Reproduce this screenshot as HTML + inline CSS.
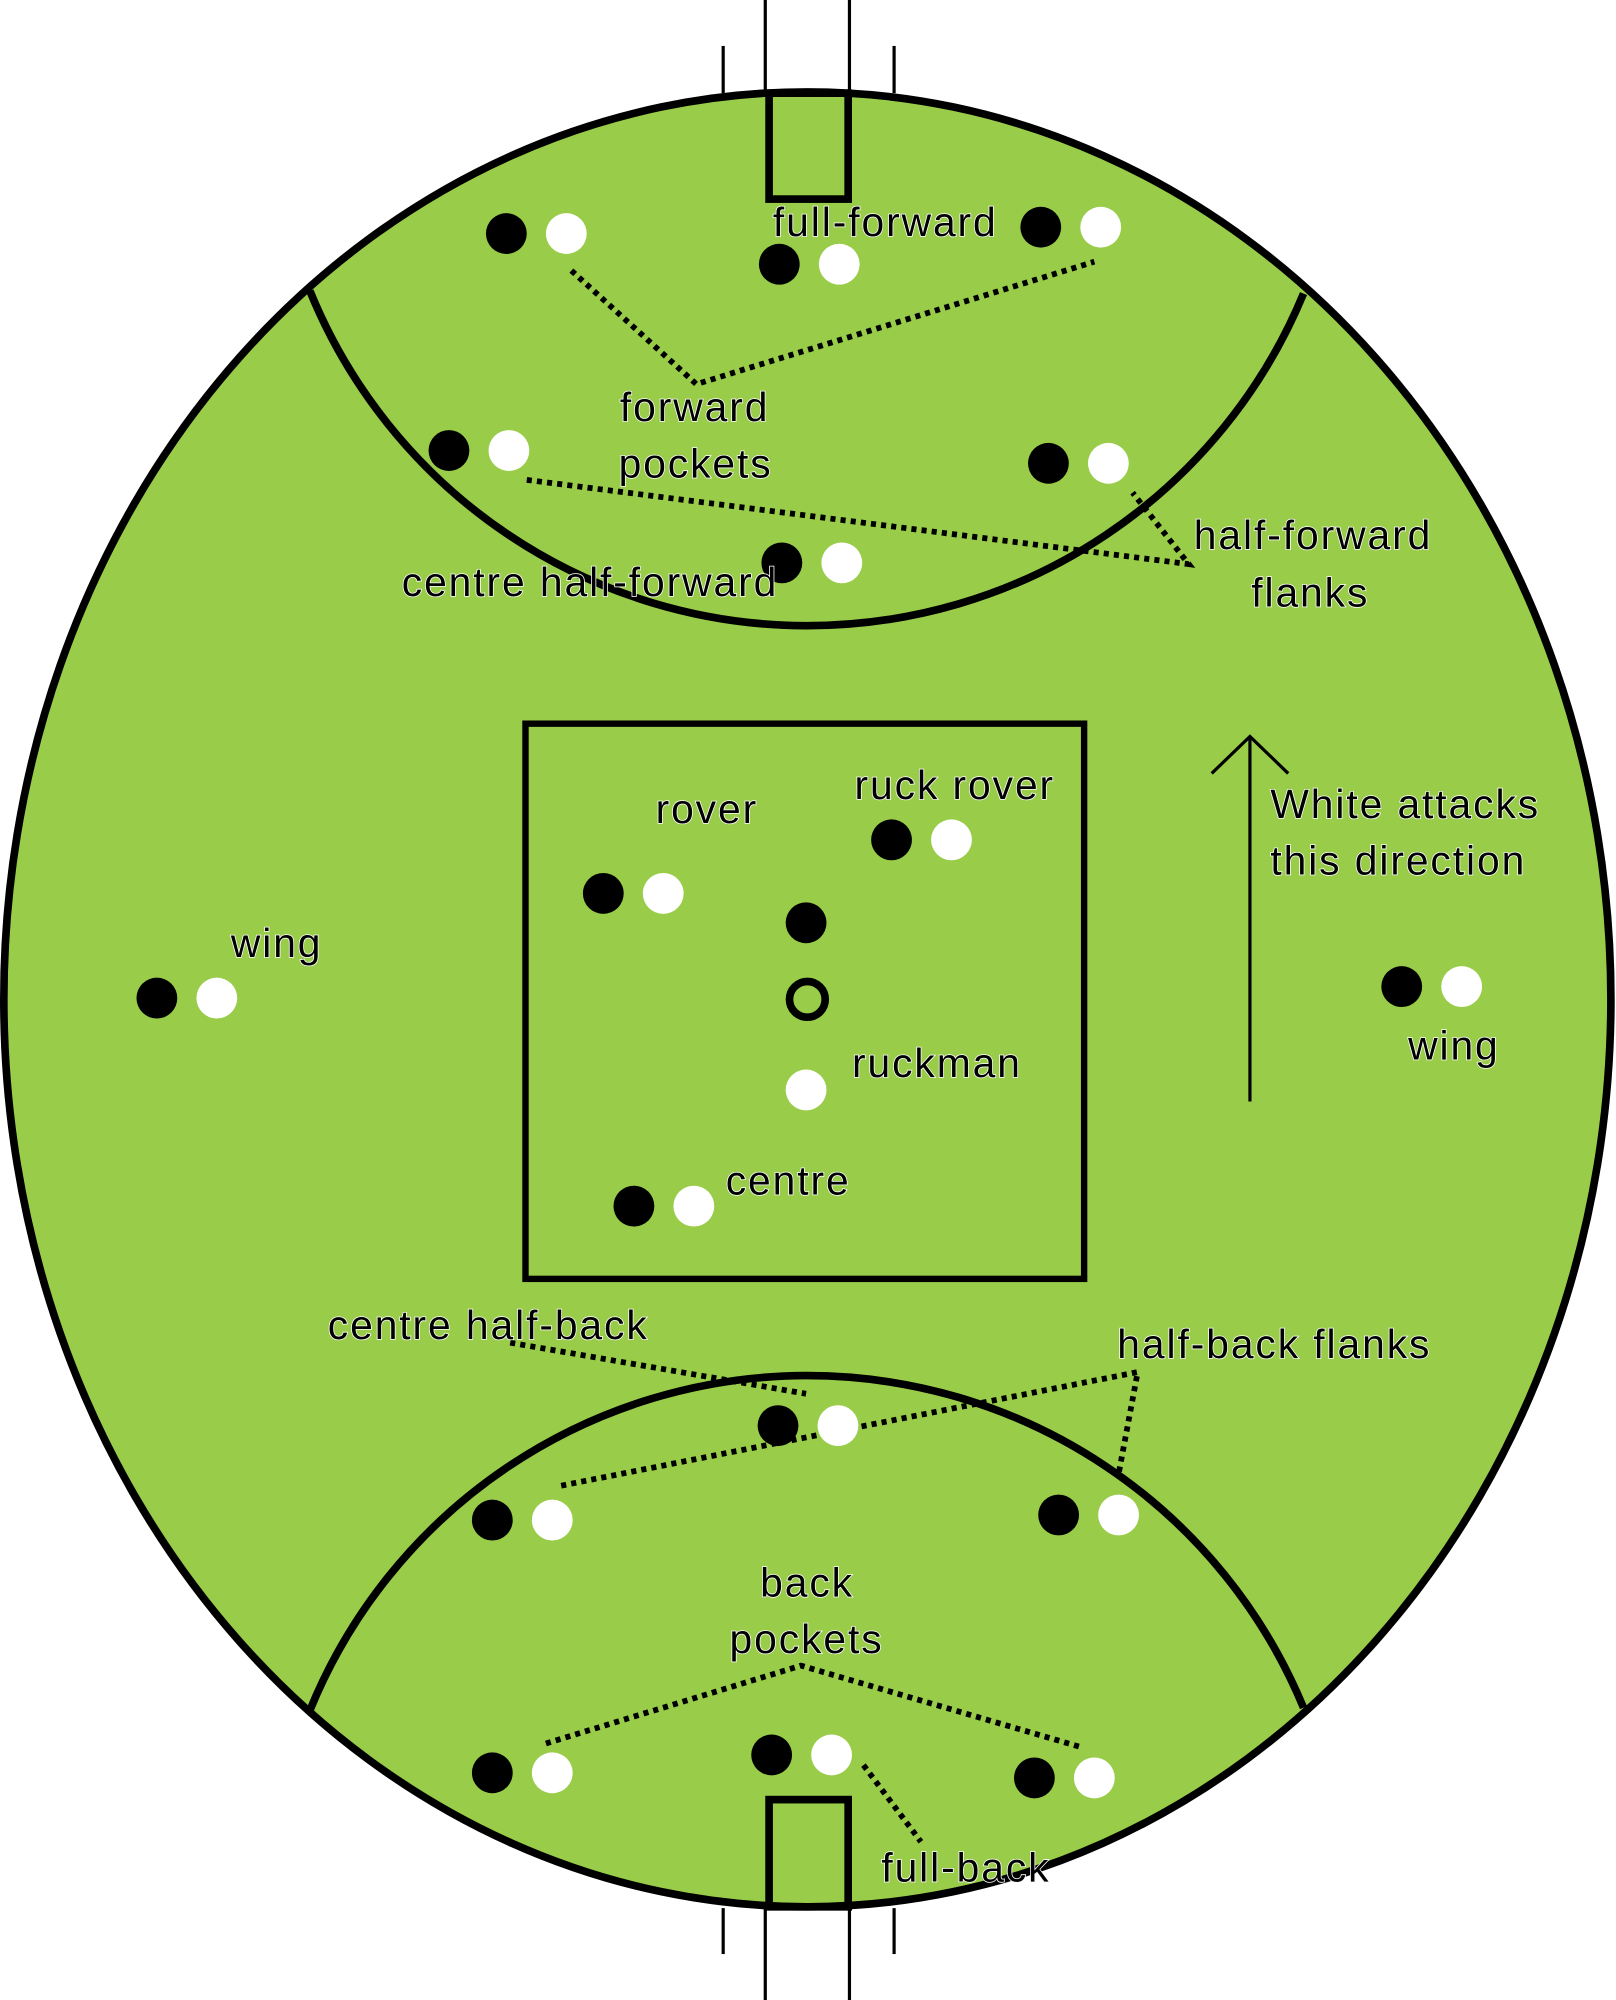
<!DOCTYPE html>
<html><head><meta charset="utf-8"><style>
html,body{margin:0;padding:0;background:#fff;}
svg{display:block;}
text{font-family:"Liberation Sans",sans-serif;font-size:32px;letter-spacing:1.5px;fill:#000;stroke:#fff;stroke-width:1.2px;paint-order:stroke;}
</style></head><body>
<svg width="1616" height="2000" viewBox="0 0 1267 1567" preserveAspectRatio="none">
<ellipse cx="633" cy="783" rx="630" ry="711" fill="#99cc49" stroke="#000" stroke-width="6"/>
<path d="M243,228 A421,421 0 0 0 1022,230" fill="none" stroke="#000" stroke-width="6"/>
<path d="M243,1340 A421,421 0 0 1 1022,1338" fill="none" stroke="#000" stroke-width="6"/>
<rect x="603" y="73" width="62" height="83" fill="none" stroke="#000" stroke-width="6"/>
<rect x="603" y="1410" width="62" height="84" fill="none" stroke="#000" stroke-width="6"/>
<g stroke="#000" stroke-width="2.5">
<line x1="600" y1="0" x2="600" y2="73"/><line x1="666" y1="0" x2="666" y2="73"/>
<line x1="567" y1="36" x2="567" y2="73"/><line x1="701" y1="36" x2="701" y2="73"/>
<line x1="600" y1="1495" x2="600" y2="1567"/><line x1="666" y1="1495" x2="666" y2="1567"/>
<line x1="567" y1="1495" x2="567" y2="1531"/><line x1="701" y1="1495" x2="701" y2="1531"/>
<line x1="980" y1="577" x2="980" y2="863"/>
<polyline points="950,606 980,577 1010,606" fill="none"/>
</g>
<rect x="412" y="567" width="438" height="435" fill="none" stroke="#000" stroke-width="5"/>
<g fill="none" stroke="#000" stroke-width="4.5" stroke-dasharray="4 4">
<polyline points="448,212 546,301 858,205"/>
<polyline points="413,376 932,442 888,386"/>
<polyline points="400,1052 632,1092"/>
<polyline points="440,1164 892,1075 877,1155"/>
<polyline points="428,1366 628,1305 848,1369"/>
<polyline points="677,1383 722,1443"/>
</g>
<circle cx="633" cy="783" r="14" fill="none" stroke="#000" stroke-width="6"/>
<g>
<circle cx="397" cy="183" r="16"/><circle cx="444" cy="183" r="16" fill="#fff"/>
<circle cx="611" cy="207" r="16"/><circle cx="658" cy="207" r="16" fill="#fff"/>
<circle cx="816" cy="178" r="16"/><circle cx="863" cy="178" r="16" fill="#fff"/>
<circle cx="352" cy="353" r="16"/><circle cx="399" cy="353" r="16" fill="#fff"/>
<circle cx="822" cy="363" r="16"/><circle cx="869" cy="363" r="16" fill="#fff"/>
<circle cx="613" cy="441" r="16"/><circle cx="660" cy="441" r="16" fill="#fff"/>
<circle cx="699" cy="658" r="16"/><circle cx="746" cy="658" r="16" fill="#fff"/>
<circle cx="473" cy="700" r="16"/><circle cx="520" cy="700" r="16" fill="#fff"/>
<circle cx="632" cy="723" r="16"/>
<circle cx="632" cy="854" r="16" fill="#fff"/>
<circle cx="123" cy="782" r="16"/><circle cx="170" cy="782" r="16" fill="#fff"/>
<circle cx="1099" cy="773" r="16"/><circle cx="1146" cy="773" r="16" fill="#fff"/>
<circle cx="497" cy="945" r="16"/><circle cx="544" cy="945" r="16" fill="#fff"/>
<circle cx="610" cy="1117" r="16"/><circle cx="657" cy="1117" r="16" fill="#fff"/>
<circle cx="386" cy="1191" r="16"/><circle cx="433" cy="1191" r="16" fill="#fff"/>
<circle cx="830" cy="1187" r="16"/><circle cx="877" cy="1187" r="16" fill="#fff"/>
<circle cx="386" cy="1389" r="16"/><circle cx="433" cy="1389" r="16" fill="#fff"/>
<circle cx="605" cy="1375" r="16"/><circle cx="652" cy="1375" r="16" fill="#fff"/>
<circle cx="811" cy="1393" r="16"/><circle cx="858" cy="1393" r="16" fill="#fff"/>
</g>
<text x="606" y="185">full-forward</text>
<text x="486" y="330">forward</text>
<text x="485" y="374">pockets</text>
<text x="936" y="430">half-forward</text>
<text x="981" y="475">flanks</text>
<text x="315" y="467">centre half-forward</text>
<text x="514" y="645">rover</text>
<text x="670" y="626">ruck rover</text>
<text x="996" y="641">White attacks</text>
<text x="996" y="685">this direction</text>
<text x="181" y="750">wing</text>
<text x="1104" y="830">wing</text>
<text x="668" y="844">ruckman</text>
<text x="569" y="936">centre</text>
<text x="257" y="1049">centre half-back</text>
<text x="876" y="1064">half-back flanks</text>
<text x="596" y="1251">back</text>
<text x="572" y="1295">pockets</text>
<text x="691" y="1474">full-back</text>
</svg>
</body></html>
